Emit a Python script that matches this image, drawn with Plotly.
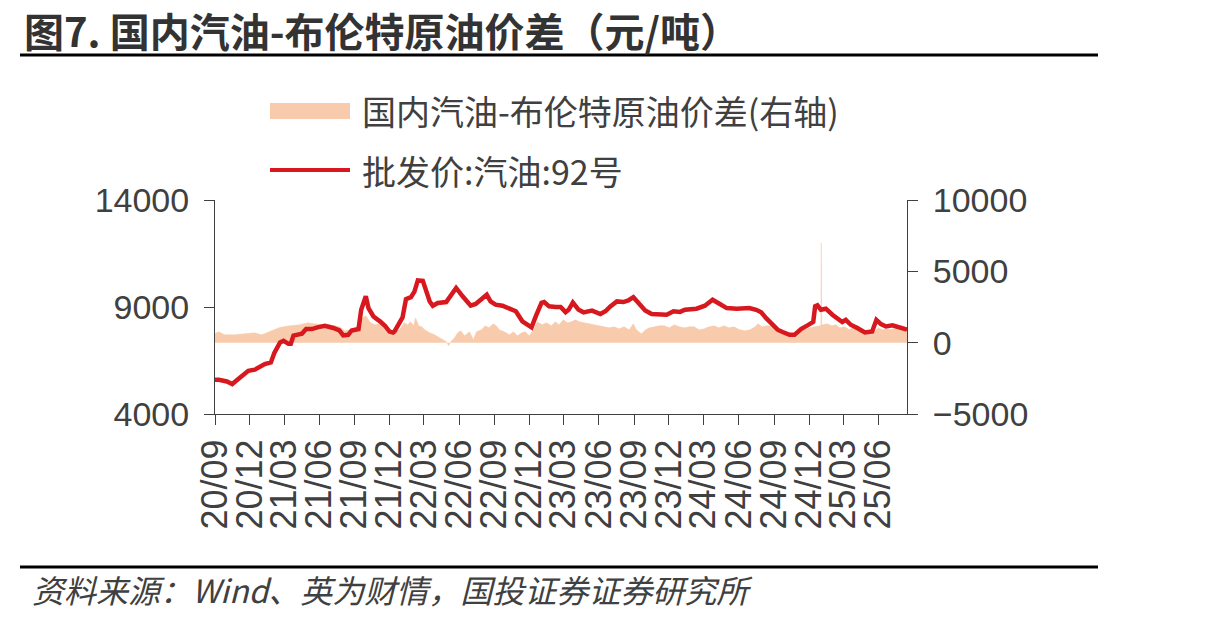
import plotly.graph_objects as go

# ---------------- data ----------------
line_dates = [
    "2020-09-01", "2020-09-11", "2020-10-02", "2020-10-16", "2020-11-04", "2020-11-27", "2020-12-14",
    "2021-01-09", "2021-01-25", "2021-02-03", "2021-02-18", "2021-02-27", "2021-03-12", "2021-03-18",
    "2021-03-25", "2021-04-16", "2021-04-27", "2021-05-12", "2021-05-29", "2021-06-15", "2021-07-07",
    "2021-07-23", "2021-08-02", "2021-08-15", "2021-08-24", "2021-09-11", "2021-09-18", "2021-09-30",
    "2021-10-07", "2021-10-20", "2021-11-06", "2021-11-19", "2021-12-01", "2021-12-10", "2021-12-14",
    "2022-01-04", "2022-01-13", "2022-01-26", "2022-02-04", "2022-02-13", "2022-02-26", "2022-03-07",
    "2022-03-16", "2022-03-24", "2022-04-06", "2022-04-28", "2022-05-11", "2022-05-24", "2022-06-10",
    "2022-06-23", "2022-07-01", "2022-07-14", "2022-08-01", "2022-08-12", "2022-08-22", "2022-09-04",
    "2022-09-22", "2022-10-09", "2022-10-27", "2022-11-13", "2022-11-30", "2022-12-07", "2022-12-18",
    "2023-01-02", "2023-01-09", "2023-01-22", "2023-02-08", "2023-02-21", "2023-03-06", "2023-03-14",
    "2023-03-25", "2023-04-09", "2023-04-22", "2023-05-14", "2023-06-05", "2023-06-18", "2023-07-01",
    "2023-07-18", "2023-08-04", "2023-08-17", "2023-08-30", "2023-09-12", "2023-09-30", "2023-10-17",
    "2023-11-08", "2023-11-25", "2023-12-13", "2023-12-30", "2024-01-12", "2024-02-11", "2024-03-04",
    "2024-03-24", "2024-04-12", "2024-04-30", "2024-05-26", "2024-06-07", "2024-06-28", "2024-07-16",
    "2024-07-29", "2024-08-11", "2024-08-24", "2024-09-10", "2024-09-23", "2024-10-11", "2024-10-24",
    "2024-11-10", "2024-11-27", "2024-12-12", "2024-12-17", "2024-12-23", "2025-01-01", "2025-01-14",
    "2025-01-31", "2025-02-18", "2025-02-26", "2025-03-07", "2025-03-20", "2025-04-06", "2025-04-26",
    "2025-05-15", "2025-05-26", "2025-06-07", "2025-06-20", "2025-07-07", "2025-07-25", "2025-08-14",
]
line_values = [
    5600, 5600, 5520, 5400, 5680, 6020, 6070,
    6330, 6410, 6850, 7340, 7420, 7280, 7280,
    7660, 7750, 7970, 7970, 8060, 8125, 8020,
    7905, 7670, 7700, 7905, 7970, 8870, 9500,
    8950, 8560, 8330, 8125, 7850, 7810, 7860,
    8510, 9370, 9460, 9720, 10240, 10225, 9650,
    9260, 9060, 9190, 9230, 9530, 9890, 9500,
    9260, 9060, 9140, 9370, 9570, 9260, 9110,
    9060, 8910, 8800, 8330, 8125, 8050, 8560,
    9190, 9230, 9030, 9000, 9000, 8760, 8870,
    9210, 8870, 8750, 8830, 8670, 8800, 9030,
    9260, 9230, 9310, 9460, 9230, 8840, 8670,
    8670, 8640, 8800, 8770, 8870, 8920, 9060,
    9340, 9140, 8950, 8920, 8920, 8950, 8870,
    8750, 8480, 8250, 7940, 7830, 7700, 7700,
    7970, 8140, 8300, 9030, 9080, 8870, 8920,
    8640, 8360, 8300, 8400, 8170, 8020, 7810,
    7860, 8400, 8200, 8090, 8140, 8020, 7940,
]

spread_dates = [
    "2020-09-01", "2020-09-11", "2020-09-26", "2020-10-22", "2020-11-17", "2020-12-13", "2021-01-01",
    "2021-01-22", "2021-02-04", "2021-02-17", "2021-03-15", "2021-04-10", "2021-05-01", "2021-05-19",
    "2021-06-07", "2021-06-28", "2021-07-11", "2021-07-24", "2021-08-06", "2021-08-19", "2021-09-01",
    "2021-09-14", "2021-09-22", "2021-09-30", "2021-10-10", "2021-10-23", "2021-11-05", "2021-11-18",
    "2021-12-01", "2021-12-14", "2021-12-27", "2022-01-09", "2022-01-17", "2022-01-25", "2022-02-02",
    "2022-02-07", "2022-02-15", "2022-02-23", "2022-03-03", "2022-03-16", "2022-03-29", "2022-04-11",
    "2022-04-21", "2022-04-29", "2022-05-04", "2022-05-12", "2022-05-20", "2022-05-28", "2022-06-05",
    "2022-06-15", "2022-06-28", "2022-07-08", "2022-07-16", "2022-07-29", "2022-08-08", "2022-08-18",
    "2022-08-29", "2022-09-06", "2022-09-14", "2022-09-27", "2022-10-10", "2022-10-21", "2022-10-31",
    "2022-11-11", "2022-11-21", "2022-12-01", "2022-12-12", "2022-12-22", "2023-01-04", "2023-01-15",
    "2023-01-28", "2023-02-07", "2023-02-17", "2023-02-28", "2023-03-11", "2023-03-21", "2023-04-01",
    "2023-04-11", "2023-04-24", "2023-05-07", "2023-05-20", "2023-06-02", "2023-06-15", "2023-06-28",
    "2023-07-11", "2023-07-24", "2023-08-06", "2023-08-19", "2023-08-30", "2023-09-07", "2023-09-20",
    "2023-10-01", "2023-10-11", "2023-10-24", "2023-11-06", "2023-11-19", "2023-12-02", "2023-12-15",
    "2023-12-28", "2024-01-10", "2024-01-23", "2024-02-05", "2024-02-18", "2024-03-02", "2024-03-15",
    "2024-03-28", "2024-04-10", "2024-04-23", "2024-05-06", "2024-05-19", "2024-06-03", "2024-06-17",
    "2024-06-30", "2024-07-13", "2024-07-21", "2024-07-31", "2024-08-11", "2024-08-21", "2024-09-03",
    "2024-09-16", "2024-09-29", "2024-10-12", "2024-10-25", "2024-11-07", "2024-11-20", "2024-12-03",
    "2024-12-16", "2024-12-24", "2025-01-01", "2025-01-02", "2025-01-03", "2025-01-06", "2025-01-17",
    "2025-01-30", "2025-02-09", "2025-02-19", "2025-03-04", "2025-03-17", "2025-03-30", "2025-04-07",
    "2025-04-18", "2025-04-28", "2025-05-09", "2025-05-19", "2025-05-31", "2025-06-11", "2025-06-21",
    "2025-07-02", "2025-07-15", "2025-07-28", "2025-08-14",
]
spread_values = [
    650, 760, 550, 550, 620, 690, 550,
    760, 900, 1070, 1180, 1250, 1390, 1320,
    1250, 1250, 1180, 1110, 830, 900, 900,
    1460, 1740, 1880, 1460, 1250, 1320, 1110,
    760, 760, 900, 1410, 1250, 1460, 1180,
    1740, 1180, 1110, 900, 690, 550, 340,
    200, 60, -220, 130, 340, 690, 830,
    480, 760, 200, 760, 900, 1180, 1040,
    1320, 1180, 900, 760, 550, 760, 480,
    690, 760, 480, 900, 1460, 1250, 1390,
    1180, 1460, 1250, 1600, 1390, 1460, 1600,
    1460, 1390, 1320, 1250, 1180, 1110, 1040,
    1110, 970, 1110, 900, 1320, 900, 620,
    900, 1040, 1110, 1180, 1180, 1040, 1250,
    1110, 1040, 1110, 1110, 900, 970, 1110,
    1180, 1040, 1180, 1040, 1110, 900, 830,
    900, 1110, 1320, 1110, 1180, 1180, 970,
    830, 620, 480, 620, 760, 900, 1040,
    1110, 1180, 1200, 7000, 1250, 1250, 1320,
    1180, 1250, 1040, 1110, 900, 1180, 1180,
    970, 830, 760, 690, 1040, 900, 970,
    900, 1040, 900, 830,
]

left_ticks = [4000, 9000, 14000]
right_ticks = [-5000, 0, 5000, 10000]

title_text = "图7. 国内汽油-布伦特原油价差（元/吨）"
source_text = "资料来源：Wind、英为财情，国投证券证券研究所"
spread_name = "国内汽油-布伦特原油价差(右轴)"
line_name = "批发价:汽油:92号"

# ---------------- layout geometry ----------------
W, H = 1213, 622
L, R, T, B = 215, 306, 200, 208
PW, PH = W - L - R, H - T - B


def px(x):
    return (x - L) / PW


def py(y):
    return (H - B - y) / PH


AXC = "#404040"
TXT = "#404040"
NUM_FONT = "Liberation Sans, Arial, sans-serif"
CJK_FONT = "Noto Sans CJK SC, sans-serif"
RED = "#D7191F"
PEACH = "#F8CBAD"

fig = go.Figure()
fig.add_trace(go.Scatter(
    x=spread_dates, y=spread_values, name=spread_name, mode="lines",
    fill="tozeroy", fillcolor=PEACH, line=dict(color=PEACH, width=0.5),
    yaxis="y", showlegend=False,
))
fig.add_trace(go.Scatter(
    x=line_dates, y=line_values, name=line_name, mode="lines",
    line=dict(color=RED, width=4.5), yaxis="y2", showlegend=False,
))

axis_common = dict(
    showgrid=False, zeroline=False, showline=True, linecolor=AXC, linewidth=1,
    ticks="outside", ticklen=10, tickcolor=AXC, tickwidth=1,
)

fig.update_layout(
    width=W, height=H, autosize=False,
    margin=dict(l=L, r=R, t=T, b=B),
    paper_bgcolor="white", plot_bgcolor="white",
    showlegend=False,
    xaxis=dict(
        type="date", range=["2020-09-01", "2025-08-14"],
        tick0="2020-09-01", dtick="M3", tickformat="%y/%m", tickangle=-90,
        tickfont=dict(family=NUM_FONT, size=36, color=TXT),
        **axis_common,
    ),
    yaxis=dict(
        side="right", range=[-5000, 10000], tickvals=right_ticks, tickformat="d",
        ticklabelstandoff=8, tickfont=dict(family=NUM_FONT, size=34, color=TXT),
        **axis_common,
    ),
    yaxis2=dict(
        side="left", overlaying="y", range=[4000, 14000], tickvals=left_ticks, tickformat="d",
        ticklabelstandoff=8, tickfont=dict(family=NUM_FONT, size=34, color=TXT),
        **axis_common,
    ),
)

shapes = [
    dict(type="line", xref="paper", yref="paper", x0=px(20), x1=px(1098), y0=py(55), y1=py(55),
         line=dict(color="black", width=3)),
    dict(type="line", xref="paper", yref="paper", x0=px(20), x1=px(1098), y0=py(567), y1=py(567),
         line=dict(color="black", width=3)),
    dict(type="rect", xref="paper", yref="paper", x0=px(270), x1=px(350), y0=py(103), y1=py(119),
         fillcolor=PEACH, line=dict(width=0)),
    dict(type="line", xref="paper", yref="paper", x0=px(270), x1=px(350), y0=py(170), y1=py(170),
         line=dict(color=RED, width=4)),
]
fig.update_layout(shapes=shapes)

annotations = [
    dict(text="<b>" + title_text + "</b>", x=px(22), y=py(30), xanchor="left", yanchor="middle",
         font=dict(family=CJK_FONT, size=40, color="#333333")),
    dict(text="<i>" + source_text + "</i>", x=px(30), y=py(589), xanchor="left", yanchor="middle",
         font=dict(family=CJK_FONT, size=32, color=TXT)),
    dict(text=spread_name, x=px(360), y=py(111), xanchor="left", yanchor="middle",
         font=dict(family=CJK_FONT, size=34, color=TXT)),
    dict(text=line_name, x=px(360), y=py(170), xanchor="left", yanchor="middle",
         font=dict(family=CJK_FONT, size=34, color=TXT)),
]
for a in annotations:
    a.update(xref="paper", yref="paper", showarrow=False)
fig.update_layout(annotations=annotations)

fig.write_html("out.html")
